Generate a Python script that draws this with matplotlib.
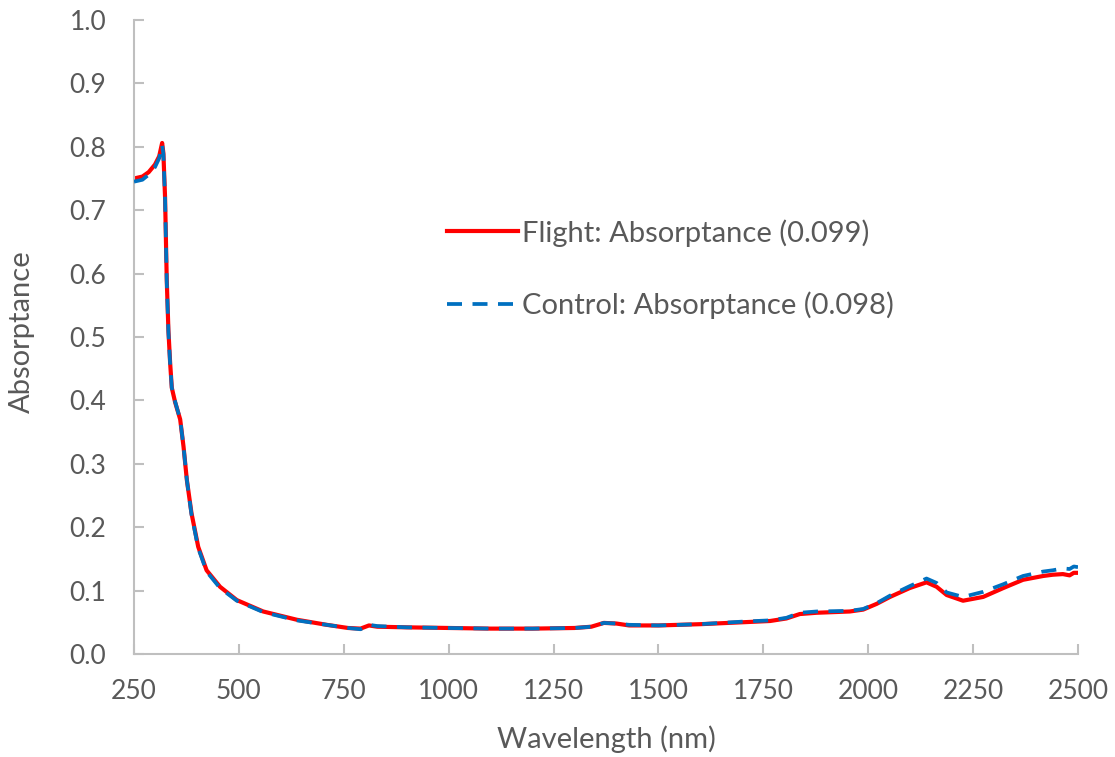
import matplotlib.pyplot as plt

# comprimentos de onda (nm)
comprimento = [250, 270, 285, 300, 310, 317, 320, 324, 328, 332, 336, 340, 348, 360, 368,
               376, 387, 403, 423, 455, 495, 558, 638, 709, 760, 790, 810, 830, 900, 1000,
               1100, 1200, 1300, 1340, 1370, 1400, 1430, 1500, 1600, 1700, 1766, 1805, 1837,
               1877, 1956, 1988, 2020, 2052, 2099, 2139, 2163, 2187, 2226, 2274, 2322, 2369,
               2417, 2440, 2464, 2480, 2490, 2500]

voo = [0.750, 0.753, 0.760, 0.772, 0.785, 0.806, 0.790, 0.720, 0.590, 0.510, 0.460, 0.420,
       0.397, 0.370, 0.327, 0.274, 0.222, 0.169, 0.132, 0.106, 0.085, 0.067, 0.054, 0.046,
       0.041, 0.040, 0.045, 0.043, 0.042, 0.041, 0.040, 0.040, 0.041, 0.043, 0.049, 0.048,
       0.045, 0.045, 0.047, 0.050, 0.052, 0.056, 0.063, 0.065, 0.067, 0.070, 0.079, 0.090,
       0.104, 0.113, 0.106, 0.093, 0.084, 0.090, 0.104, 0.117, 0.123, 0.125, 0.126, 0.124,
       0.128, 0.128]

controle = [0.745, 0.748, 0.756, 0.768, 0.782, 0.803, 0.788, 0.718, 0.588, 0.508, 0.458, 0.420,
            0.398, 0.370, 0.327, 0.274, 0.220, 0.167, 0.130, 0.104, 0.084, 0.066, 0.053, 0.046,
            0.041, 0.039, 0.046, 0.044, 0.042, 0.041, 0.040, 0.040, 0.041, 0.043, 0.049, 0.048,
            0.046, 0.045, 0.047, 0.051, 0.053, 0.057, 0.065, 0.067, 0.068, 0.071, 0.080, 0.092,
            0.107, 0.119, 0.112, 0.097, 0.090, 0.098, 0.110, 0.123, 0.130, 0.132, 0.135, 0.134,
            0.138, 0.137]

rotulos = ['Flight: Absorptance (0.099)', 'Control: Absorptance (0.098)']

cinza_texto = '#595959'
cinza_eixo = '#BFBFBF'
plt.rcParams['font.family'] = ['Lato', 'DejaVu Sans']

fig = plt.figure(figsize=(11.15, 7.57), dpi=100)
ax = fig.add_axes([0.1202, 0.1361, 0.8466, 0.8375])

ax.plot(comprimento, voo, color='#FF0000', linewidth=3.0, label=rotulos[0], zorder=2)
ax.plot(comprimento, controle, color='#0070C0', linewidth=2.7, dashes=(4, 2.8),
        label=rotulos[1], zorder=3)

ax.set_xlim(250, 2500)
ax.set_ylim(0, 1.0)
ax.set_xticks(range(250, 2501, 250))
ax.set_yticks([i / 10 for i in range(11)])
ax.set_yticklabels([f'{i / 10:.1f}' for i in range(11)])

for lado in ['top', 'right']:
    ax.spines[lado].set_visible(False)
for lado in ['left', 'bottom']:
    ax.spines[lado].set_color(cinza_eixo)
    ax.spines[lado].set_linewidth(1.5)

ax.tick_params(direction='in', length=7, width=1.5, color=cinza_eixo,
               labelsize=19, labelcolor=cinza_texto)
ax.tick_params(axis='y', pad=20)
ax.tick_params(axis='x', pad=18)

ax.set_xlabel('Wavelength (nm)', fontsize=21, color=cinza_texto)
ax.set_ylabel('Absorptance', fontsize=21, color=cinza_texto)
ax.xaxis.set_label_coords(0.5, -0.112)
ax.yaxis.set_label_coords(-0.105, 0.509)

leg = ax.legend(loc='center left', bbox_to_anchor=(0.3316, 0.607), frameon=False,
                fontsize=21, handlelength=2.45, handletextpad=0.12, labelspacing=1.55,
                borderpad=0, borderaxespad=0)
for t in leg.get_texts():
    t.set_color(cinza_texto)

fig.savefig('out.png', dpi=100)
